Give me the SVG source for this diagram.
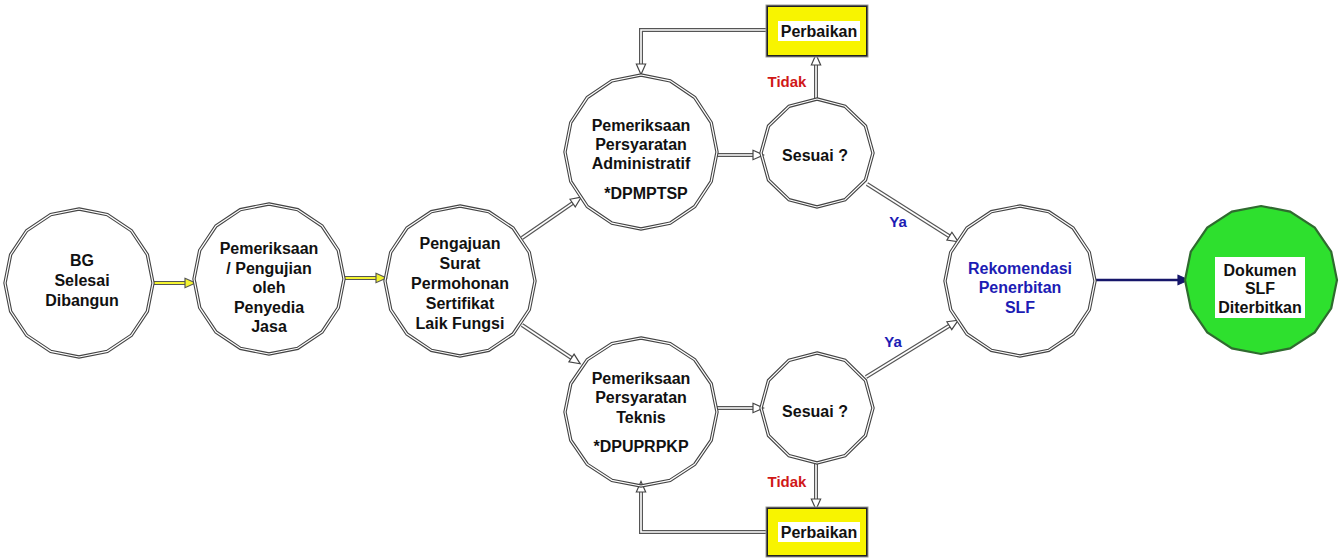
<svg xmlns="http://www.w3.org/2000/svg" xmlns:xlink="http://www.w3.org/1999/xlink" width="1340" height="558" viewBox="0 0 1340 558">
<style>
.t{font-family:"Liberation Sans",Arial,sans-serif;font-weight:bold;font-size:16px;fill:#111;text-anchor:middle}
.blue{fill:#1c1cb4}
.red{fill:#d01818}
.lblb{font-family:"Liberation Sans",Arial,sans-serif;font-weight:bold;font-size:15px;fill:#1c1cb4;text-anchor:middle}
.lblr{font-family:"Liberation Sans",Arial,sans-serif;font-weight:bold;font-size:15px;fill:#d01818;text-anchor:middle}
.outer{fill:none;stroke:#444;stroke-width:3.4}
.inner{fill:none;stroke:#fff;stroke-width:1.2}
.cout{fill:none;stroke:#555;stroke-width:4}
.cin{fill:none;stroke:#fff;stroke-width:1.6}
.yin{fill:none;stroke:#f4f430;stroke-width:2}
</style>
<defs>
<polygon id="p16" vector-effect="non-scaling-stroke" points="0,-100 38.27,-92.39 70.71,-70.71 92.39,-38.27 100,0 92.39,38.27 70.71,70.71 38.27,92.39 0,100 -38.27,92.39 -70.71,70.71 -92.39,38.27 -100,0 -92.39,-38.27 -70.71,-70.71 -38.27,-92.39"/>
<polygon id="p12" vector-effect="non-scaling-stroke" points="0,-100 50,-86.6 86.6,-50 100,0 86.6,50 50,86.6 0,100 -50,86.6 -86.6,50 -100,0 -86.6,-50 -50,-86.6"/>
<marker id="ah" markerUnits="userSpaceOnUse" markerWidth="14" markerHeight="14" viewBox="-1 -5 12 10" refX="0" refY="0" orient="auto">
<path d="M0,-4 L9,0 L0,4 Z" fill="#fff" stroke="#444" stroke-width="1"/>
</marker>
<marker id="ay" markerUnits="userSpaceOnUse" markerWidth="14" markerHeight="14" viewBox="-1 -5 12 10" refX="0" refY="0" orient="auto">
<path d="M0,-4 L9,0 L0,4 Z" fill="#f4f430" stroke="#555" stroke-width="1"/>
</marker>
<marker id="an" markerUnits="userSpaceOnUse" markerWidth="14" markerHeight="14" viewBox="-1 -5 12 10" refX="0" refY="0" orient="auto">
<path d="M0,-4 L9,0 L0,4 Z" fill="#16166a" stroke="#16166a" stroke-width="1"/>
</marker>
</defs>
<rect width="1340" height="558" fill="#fff"/>

<g id="connectors">
<path class="cout" d="M153,283 H185"/><path class="yin" d="M153,283 H185" marker-end="url(#ay)"/>
<path class="cout" d="M345,278 H376"/><path class="yin" d="M345,278 H376" marker-end="url(#ay)"/>
<path class="cout" d="M522,238 L572.6,203.1"/><path class="cin" d="M522,238 L572.6,203.1" marker-end="url(#ah)"/>
<path class="cout" d="M522,325 L571.5,358"/><path class="cin" d="M522,325 L571.5,358" marker-end="url(#ah)"/>
<path class="cout" d="M717,155 H753"/><path class="cin" d="M717,155 H753" marker-end="url(#ah)"/>
<path class="cout" d="M816,100 V65"/><path class="cin" d="M816,100 V65" marker-end="url(#ah)"/>
<path class="cout" d="M767,30 H641 V64"/><path class="cin" d="M767,30 H641 V64" marker-end="url(#ah)"/>
<path class="cout" d="M867,184 L949.4,236.2"/><path class="cin" d="M867,184 L949.4,236.2" marker-end="url(#ah)"/>
<path class="cout" d="M866,377 L949.3,325.7"/><path class="cin" d="M866,377 L949.3,325.7" marker-end="url(#ah)"/>
<path class="cout" d="M717,408 H753"/><path class="cin" d="M717,408 H753" marker-end="url(#ah)"/>
<path class="cout" d="M816,463 V499"/><path class="cin" d="M816,463 V499" marker-end="url(#ah)"/>
<path class="cout" d="M767,532 H641 V492"/><path class="cin" d="M767,532 H641 V492" marker-end="url(#ah)"/>
<path d="M1095,280 H1178" fill="none" stroke="#16166a" stroke-width="2.5" marker-end="url(#an)"/>
<text class="lblr" x="787" y="87">Tidak</text>
<text class="lblr" x="787" y="487">Tidak</text>
<text class="lblb" x="898" y="227">Ya</text>
<text class="lblb" x="893" y="347">Ya</text>
</g>

<g id="n-bg" transform="translate(79,283)">
<use href="#p16" transform="scale(.74)" fill="#fff" class="outer"/>
<use href="#p16" transform="scale(.74)" class="inner"/>
<text class="t" x="3" y="-17">BG</text>
<text class="t" x="3" y="3">Selesai</text>
<text class="t" x="3" y="23">Dibangun</text>
</g>

<g id="n-periksa" transform="translate(269,279)">
<use href="#p16" transform="scale(.75)" fill="#fff" class="outer"/>
<use href="#p16" transform="scale(.75)" class="inner"/>
<text class="t" x="0" y="-25">Pemeriksaan</text>
<text class="t" x="0" y="-5.5">/ Pengujian</text>
<text class="t" x="0" y="14">oleh</text>
<text class="t" x="0" y="33.5">Penyedia</text>
<text class="t" x="0" y="53">Jasa</text>
</g>

<g id="n-pengajuan" transform="translate(460,281)">
<use href="#p16" transform="scale(.75)" fill="#fff" class="outer"/>
<use href="#p16" transform="scale(.75)" class="inner"/>
<text class="t" x="0" y="-32.5">Pengajuan</text>
<text class="t" x="0" y="-12">Surat</text>
<text class="t" x="0" y="7.5">Permohonan</text>
<text class="t" x="0" y="27.5">Sertifikat</text>
<text class="t" x="0" y="47.5">Laik Fungsi</text>
</g>

<g id="n-admin" transform="translate(641,152)">
<use href="#p16" transform="scale(.76,.77)" fill="#c0c0c0" class="outer"/>
<use href="#p16" transform="scale(.76,.77)" class="inner"/>
<text class="t" x="0" y="-21.5">Pemeriksaan</text>
<text class="t" x="0" y="-2.5">Persyaratan</text>
<text class="t" x="0" y="16.5">Administratif</text>
<text class="t" x="5" y="46.5">*DPMPTSP</text>
</g>

<g id="n-sesuai1" transform="translate(817,153)">
<use href="#p12" transform="scale(.56,.54)" fill="#fff" class="outer"/>
<use href="#p12" transform="scale(.56,.54)" class="inner"/>
<text class="t" x="-2" y="7.5">Sesuai ?</text>
</g>

<g id="n-perbaikan1">
<rect x="767" y="6" width="100" height="50" fill="#f8f400" stroke="#222" stroke-width="2"/>
<rect x="766" y="5" width="102" height="52" fill="none" stroke="#999" stroke-width="1"/>
<rect x="778" y="21" width="82" height="20" fill="#fff"/>
<text class="t" x="819" y="37">Perbaikan</text>
</g>

<g id="n-teknis" transform="translate(641,412)">
<use href="#p16" transform="scale(.76,.74)" fill="#c0c0c0" class="outer"/>
<use href="#p16" transform="scale(.76,.74)" class="inner"/>
<text class="t" x="0" y="-28.5">Pemeriksaan</text>
<text class="t" x="0" y="-9">Persyaratan</text>
<text class="t" x="0" y="10.5">Teknis</text>
<text class="t" x="0" y="39.5">*DPUPRPKP</text>
</g>

<g id="n-sesuai2" transform="translate(817,408)">
<use href="#p12" transform="scale(.56,.55)" fill="#fff" class="outer"/>
<use href="#p12" transform="scale(.56,.55)" class="inner"/>
<text class="t" x="-2" y="8.5">Sesuai ?</text>
</g>

<g id="n-perbaikan2">
<rect x="767" y="508" width="100" height="48" fill="#f8f400" stroke="#222" stroke-width="2"/>
<rect x="766" y="507" width="102" height="50" fill="none" stroke="#999" stroke-width="1"/>
<rect x="778" y="522" width="82" height="20" fill="#fff"/>
<text class="t" x="819" y="538">Perbaikan</text>
</g>

<g id="n-rekomendasi" transform="translate(1020,281)">
<use href="#p16" transform="scale(.75)" fill="#fff" class="outer"/>
<use href="#p16" transform="scale(.75)" class="inner"/>
<text class="t blue" x="0" y="-7.5">Rekomendasi</text>
<text class="t blue" x="0" y="11.5">Penerbitan</text>
<text class="t blue" x="0" y="31.5">SLF</text>
</g>

<g id="n-dokumen" transform="translate(1261,280)">
<use href="#p16" transform="scale(.76,.74)" fill="#2ee02e" stroke="#2f6b2f" stroke-width="2.2"/>
<rect x="-46" y="-23" width="90" height="61" fill="#fff"/>
<text class="t" x="-1" y="-4.5">Dokumen</text>
<text class="t" x="-1" y="13.5">SLF</text>
<text class="t" x="-1" y="32.5">Diterbitkan</text>
</g>
</svg>
